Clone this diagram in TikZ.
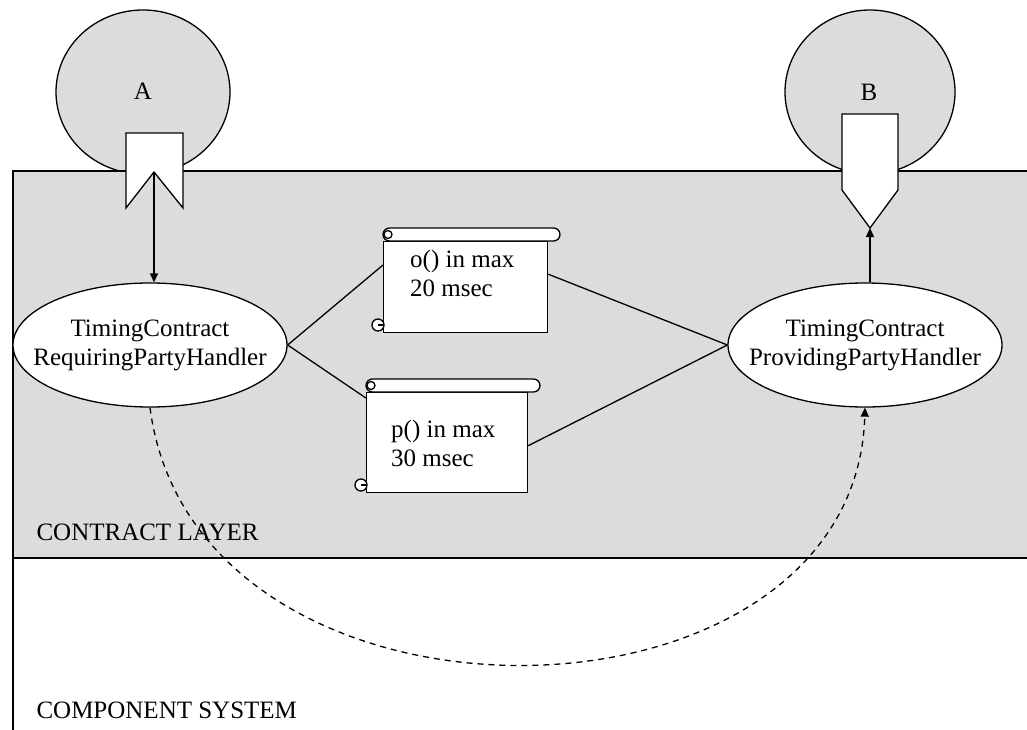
\documentclass[tikz,border=0pt]{standalone}
\usepackage{fontspec}
\setmainfont{Liberation Serif}
\usetikzlibrary{shapes.geometric,arrows.meta,calc}
\definecolor{layergray}{RGB}{220,220,220}
\tikzset{
  every node/.style={font=\fontsize{25}{29}\selectfont},
  line/.style={line width=1.3pt},
  component/.style={ellipse, draw, line width=1.3pt, fill=layergray, inner sep=0pt},
  handler/.style={ellipse, draw, line width=1.3pt, fill=white, minimum width=274pt,
    minimum height=124pt, inner sep=0pt},
  handlertext/.style={align=center, inner sep=0pt},
  port/.style={draw, line width=1.3pt, fill=white, line join=miter},
  tip/.style={-{Triangle[length=9pt,width=8pt]}},
  notebody/.style={draw, line width=1.3pt, fill=white, rectangle, inner sep=0pt},
  notetext/.style={align=left, inner sep=0pt, anchor=west},
  pics/scroll/.style n args={2}{code={
    \node[notebody, minimum width=#1, minimum height=#2, anchor=north west] (-body) at (0,0) {};
    \draw[line, fill=white, rounded corners=6.5pt] (0,-13) rectangle (#1+13,0);
    \draw[line] (5,-6.5) circle (4);
    \draw[line, fill=white] (-5,#2-7) circle (6);
    \draw[line] (-5,#2-7) -- (0,#2-7);
  }},
}
\begin{document}
\begin{tikzpicture}[x=1pt,y=-1pt]
\useasboundingbox (0,0) rectangle (1027,730);

% components on top
\node[component, minimum width=174pt, minimum height=164pt] (compA) at (143,92) {};
\node[component, minimum width=170pt, minimum height=164pt] (compB) at (870,92) {};
\node at (143,91) {A};
\node at (869,92) {B};

% contract layer and component system
\draw[line, fill=layergray] (13,171) rectangle (1040,558);
\draw[line] (13,558) -- (13,735);
\node[anchor=base west] (contract) at (33,540) {CONTRACT LAYER};
\node[anchor=base west] (system) at (33,718) {COMPONENT SYSTEM};

% required and provided ports
\draw[port] (126,133) -- (183,133) -- (183,208) -- (154,172) -- (126,208) -- cycle;
\coordinate (tipA) at (154,172);
\draw[port] (842,114) -- (898,114) -- (898,190) -- (870,228) -- (842,190) -- cycle;
\coordinate (tipB) at (870,228);

% handlers
\node[handler, label={[handlertext]center:TimingContract\\RequiringPartyHandler}] (rq) at (150,345) {};
\node[handler, label={[handlertext]center:TimingContract\\ProvidingPartyHandler}] (pr) at (865,345) {};

% timing contracts
\pic (o) at (383,241) {scroll={164}{91}};
\node[notetext] (otext) at (410,273) {o() in max\\20 msec};
\pic (p) at (366,392) {scroll={161}{100}};
\node[notetext] (ptext) at (391,443) {p() in max\\30 msec};

% connectors
\draw[line, tip] (tipA) -- (tipA |- rq.north);
\draw[line, tip] (tipB |- pr.north) -- (tipB);
\draw[line] (rq.east) -- ($(o-body.north west)!0.26!(o-body.south west)$);
\draw[line] (rq.east) -- ($(p-body.north west)!0.06!(p-body.south west)$);
\draw[line] ($(o-body.north east)!0.36!(o-body.south east)$) -- (pr.west);
\draw[line] ($(p-body.north east)!0.53!(p-body.south east)$) -- (pr.west);
\draw[line, tip, dash pattern=on 6pt off 5pt]
  (rq.south) .. controls (195,755) and (855,745) .. (pr.south);
\end{tikzpicture}
\end{document}
